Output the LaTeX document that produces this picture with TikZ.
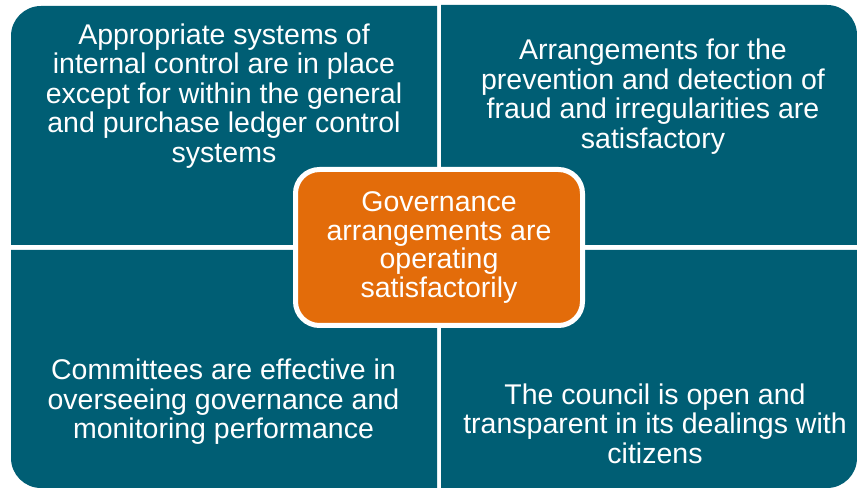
\documentclass[tikz,border=0pt]{standalone}
\usepackage{fontspec}
\setmainfont{Liberation Sans}
\definecolor{quadteal}{RGB}{0,94,116}
\definecolor{hubor}{RGB}{227,108,10}
\begin{document}
\begin{tikzpicture}[x=1pt,y=1pt,
  quad/.style={fill=quadteal},
  qtext/.style={text=white, align=center, inner sep=0pt,
    font=\fontsize{28.5}{29.5}\selectfont},
  hub/.style={fill=hubor, draw=white, line width=5pt, rounded corners=24pt,
    minimum width=287pt, minimum height=156pt, text=white, align=center,
    inner sep=0pt, font=\fontsize{28.5}{28.5}\selectfont}]
\useasboundingbox (0,0) rectangle (857,489);
% quadrants
\fill[quad] (11,244) -- (11,453) arc[start angle=180,end angle=90,radius=30] -- (437,483) -- (437,244) -- cycle;
\fill[quad] (441,244) -- (441,484) -- (827,484) arc[start angle=90,end angle=0,radius=30] -- (857,244) -- cycle;
\fill[quad] (11,239) -- (11,31) arc[start angle=180,end angle=270,radius=30] -- (437,1) -- (437,239) -- cycle;
\fill[quad] (441,239) -- (441,1) -- (827,1) arc[start angle=270,end angle=360,radius=30] -- (857,31) -- (857,239) -- cycle;
% texts
\node[qtext] (tl) at (224,393.3) {Appropriate systems of\\internal control are in place\\except for within the general\\and purchase ledger control\\systems};
\node[qtext] (tr) at (653,392.5) {Arrangements for the\\prevention and detection of\\fraud and irregularities are\\satisfactory};
\node[qtext] (bl) at (223.5,87.1) {Committees are effective in\\overseeing governance and\\monitoring performance};
\node[qtext] (br) at (655,65.5) {The council is open and\\transparent in its dealings with\\citizens};
% hub
\node[hub] (hub) at (439,241.5) {Governance\\arrangements are\\operating\\satisfactorily};
\end{tikzpicture}
\end{document}
